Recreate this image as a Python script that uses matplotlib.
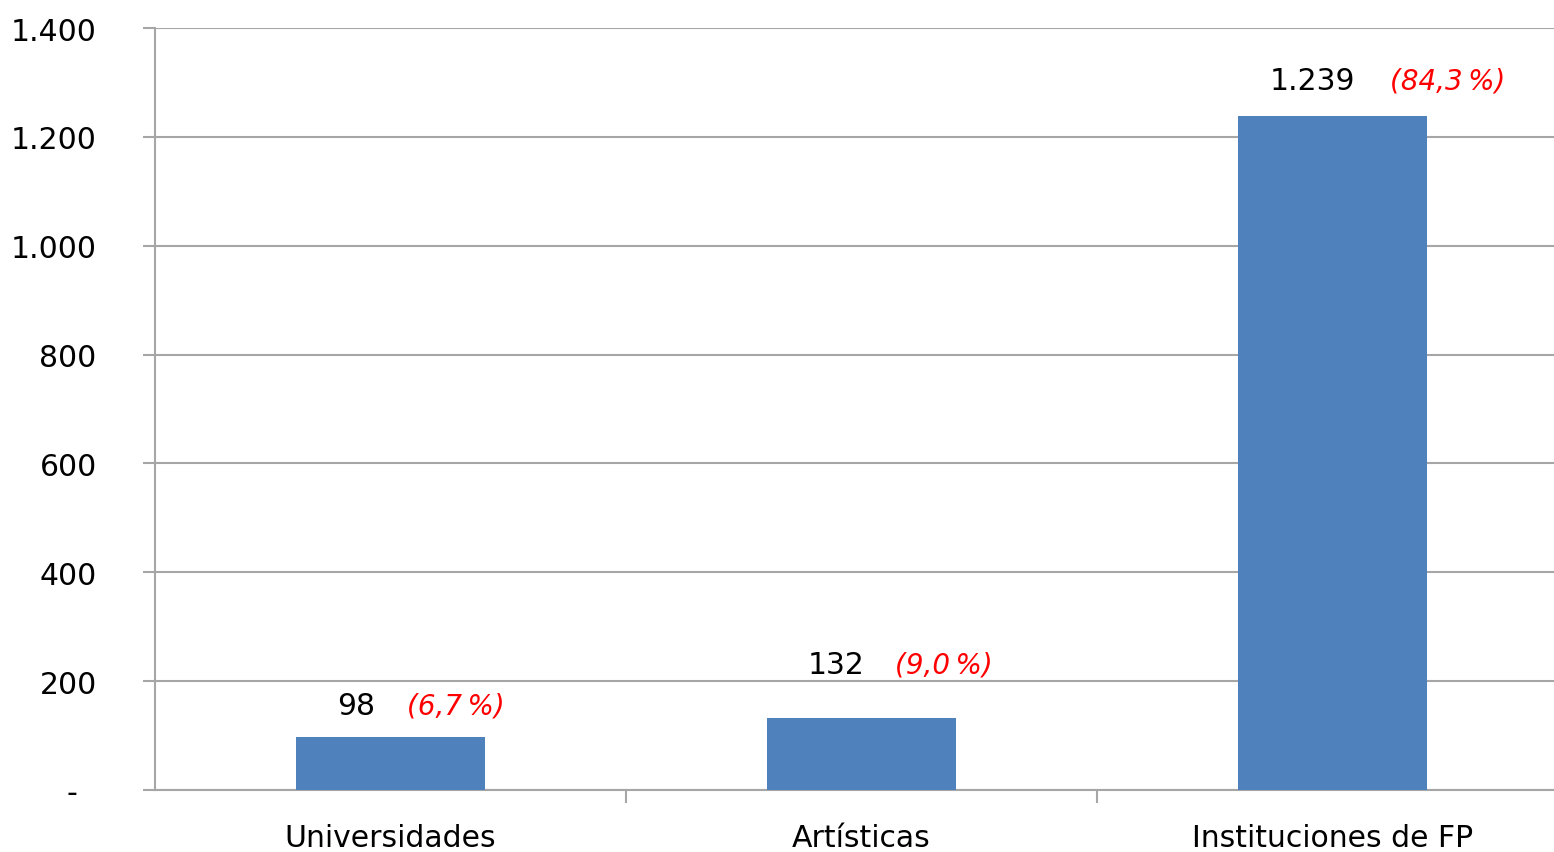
import numpy as np
import matplotlib.pyplot as plt
from matplotlib.ticker import FuncFormatter

# -----------------------------
# DATA
# -----------------------------

categories = ["Universidades", "Artísticas", "Instituciones de FP"]
values = [98, 132, 1239]
percents = ["(6,7\u2009%)", "(9,0\u2009%)", "(84,3\u2009%)"]

# label placement (layout only)
label_lift = [58, 99, 64]          # data units above bar top
value_dx = [-15, 3, 23]            # px, right edge of value text from bar centre
pct_dx = [17, 34, 58]              # px, left edge of percent text from bar centre

yticks = np.arange(0, 1401, 200)


def fmt_thousands(v, pos):
    if v == 0:
        return "-  "
    return f"{int(v):,}".replace(",", ".")


plt.rcParams['font.family'] = ['DejaVu Sans']
fs = 21.5

fig = plt.figure(figsize=(15.54, 8.53), dpi=100)
ax = fig.add_axes([155/1554, 1 - 791/853, 1413/1554, 762/853])

x = np.arange(len(categories))
ax.bar(x, values, width=0.4, color="#4F81BD", zorder=3)

ax.set_xlim(-0.5, 2.5)
ax.set_ylim(0, 1400)

# grid + spines
ax.set_yticks(yticks)
ax.yaxis.set_major_formatter(FuncFormatter(fmt_thousands))
ax.grid(axis="y", color="#a6a6a6", lw=1.5, zorder=0)
for s in ["top", "right"]:
    ax.spines[s].set_visible(False)
for s in ["left", "bottom"]:
    ax.spines[s].set_color("#a6a6a6")
    ax.spines[s].set_linewidth(1.5)

ax.tick_params(axis="y", length=9, width=1.5, color="#a6a6a6",
               pad=33, labelsize=fs, labelcolor="black")

ax.set_xticks(x)
ax.set_xticklabels(categories)
ax.set_xticks([0.5, 1.5, 2.5], minor=True)
ax.tick_params(axis="x", which="major", length=0, pad=24, labelsize=fs)
ax.tick_params(axis="x", which="minor", length=9, width=1.5, color="#a6a6a6")

# value + share labels
for i, v in enumerate(values):
    ly = v + label_lift[i]
    ax.annotate(f"{v:,}".replace(",", "."), (x[i], ly),
                xytext=(value_dx[i] * 0.72, 0), textcoords="offset points",
                ha="right", va="center", fontsize=fs, color="black")
    ax.annotate(percents[i], (x[i], ly),
                xytext=(pct_dx[i] * 0.72, 0), textcoords="offset points",
                ha="left", va="center", fontsize=20, color="#ff0000",
                style="italic")

fig.savefig("out.png", dpi=100)
